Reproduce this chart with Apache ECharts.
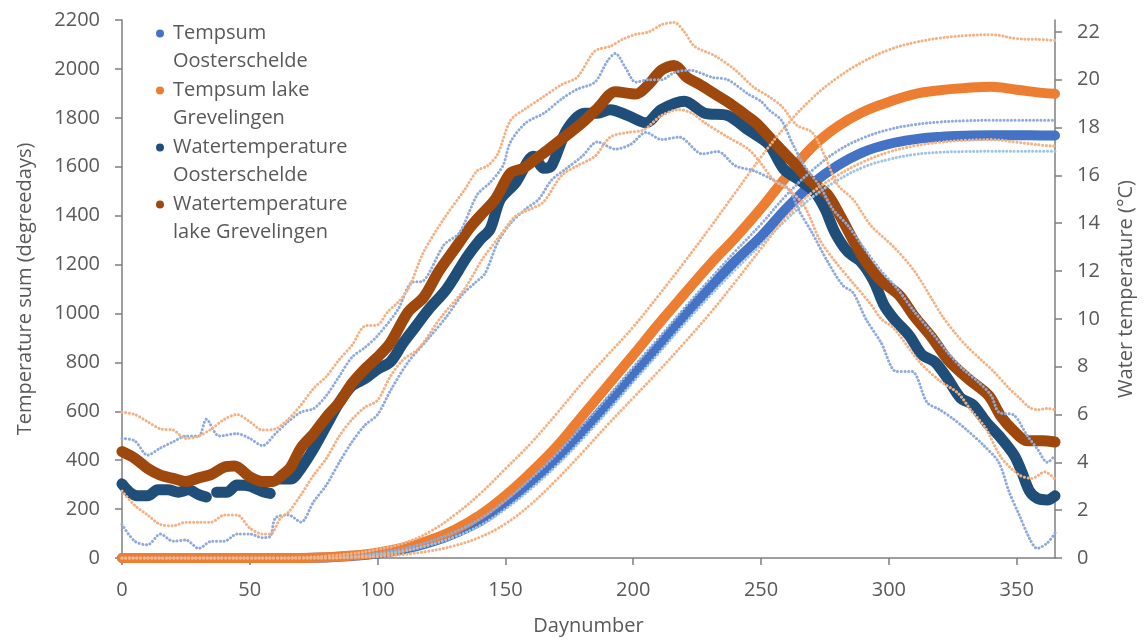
<!DOCTYPE html>
<html>
<head>
<meta charset="utf-8">
<title>Tempsum and water temperature</title>
<script src="https://cdn.jsdelivr.net/npm/echarts@6/dist/echarts.min.js"></script>
<style>
  html, body { margin: 0; padding: 0; background: #fff; }
  #chart { width: 1144px; height: 641px; }
</style>
</head>
<body>
<div id="chart"></div>
<script>
// day numbers for the temperature sums (degreedays, left axis)
const sumDays = [0, 10, 20, 30, 40, 50, 60, 70, 80, 90, 100, 110, 120, 130, 140, 150, 160, 170, 180, 190,
  200, 210, 220, 230, 240, 250, 260, 270, 280, 290, 300, 310, 320, 330, 340, 350, 360, 365];

const tempsumOS = [0, 0, 0, 0, 0, 0, 0, 0, 2, 8, 18, 35, 62, 100, 150, 225, 310, 405, 515, 630,
  750, 868, 990, 1105, 1215, 1315, 1430, 1530, 1605, 1660, 1693, 1712, 1722, 1727, 1729, 1729, 1728, 1728];
const tempsumOSHigh = [0, 0, 0, 0, 0, 0, 0, 0, 0, 8, 20, 38, 66, 106, 160, 235, 325, 425, 540, 658,
  780, 900, 1022, 1140, 1255, 1365, 1485, 1585, 1665, 1718, 1752, 1772, 1783, 1788, 1790, 1790, 1790, 1790];
const tempsumOSLow = [0, 0, 0, 0, 0, 0, 0, 0, 0, 5, 14, 28, 52, 86, 132, 200, 283, 378, 485, 600,
  720, 838, 958, 1072, 1180, 1282, 1385, 1475, 1545, 1598, 1630, 1650, 1659, 1662, 1663, 1663, 1663, 1663];

const tempsumGrev = [0, 0, 0, 0, 0, 0, 0, 0, 3, 10, 22, 42, 72, 115, 175, 255, 350, 455, 580, 705,
  830, 958, 1080, 1200, 1310, 1430, 1560, 1680, 1765, 1825, 1865, 1897, 1913, 1922, 1927, 1915, 1902, 1898];
const tempsumGrevHigh = [0, 0, 0, 0, 0, 0, 0, 2, 8, 18, 35, 60, 105, 175, 262, 365, 470, 590, 715, 830,
  945, 1075, 1210, 1350, 1495, 1640, 1770, 1880, 1965, 2030, 2078, 2108, 2126, 2136, 2140, 2124, 2120, 2116];
const tempsumGrevLow = [0, 0, 0, 0, 0, 0, 0, 0, 0, 2, 6, 14, 28, 50, 85, 140, 220, 320, 430, 545,
  655, 765, 880, 1000, 1130, 1265, 1395, 1495, 1565, 1620, 1660, 1685, 1700, 1708, 1711, 1700, 1688, 1684];

// water temperature (°C, right axis) as [day, value]; '-' leaves a gap
const waterOS = [[0, 3.1], [3, 2.75], [6, 2.6], [10, 2.6], [14, 2.85], [18, 2.85], [22, 2.75], [26, 2.85],
  [30, 2.65], [33, 2.55], [35, '-'], [37, 2.75], [41, 2.75], [45, 3.05], [50, 3.0], [55, 2.78], [58, 2.7],
  [60, '-'], [62, 3.3], [66, 3.3], [70, 3.75], [75, 4.58], [80, 5.55], [85, 6.5], [90, 7.2], [95, 7.5],
  [100, 7.9], [105, 8.2], [110, 9.0], [115, 9.7], [120, 10.4], [127, 11.25], [135, 12.6], [140, 13.3],
  [144, 13.75], [148, 15.0], [154, 15.7], [161, 16.8], [165, 16.3], [168, 16.4], [174, 17.9], [181, 18.6],
  [186, 18.6], [191, 18.75], [198, 18.5], [205, 18.2], [211, 18.75], [220, 19.1], [228, 18.6], [237, 18.5],
  [245, 17.9], [253, 17.3], [259, 16.25], [265, 15.8], [271, 15.3], [275, 14.6], [279, 13.6], [284, 12.8],
  [289, 12.4], [294, 11.6], [298, 10.6], [302, 10.0], [308, 9.3], [313, 8.5], [318, 8.2], [323, 7.5],
  [328, 6.7], [333, 6.4], [338, 5.7], [344, 5.0], [349, 4.3], [352, 3.6], [355, 2.8], [358, 2.5],
  [362, 2.43], [365, 2.6]];
const waterOSMax = [[0, 5.0], [5, 4.9], [10, 4.3], [15, 4.6], [20, 4.86], [25, 5.1], [30, 5.1], [33, 5.8],
  [38, 5.1], [45, 5.2], [50, 5.0], [55, 4.7], [60, 5.2], [65, 5.7], [70, 6.1], [75, 6.25], [80, 6.8],
  [85, 7.6], [90, 8.4], [95, 8.8], [100, 9.3], [108, 10.4], [113, 11.5], [118, 11.6], [126, 13.1],
  [132, 13.6], [139, 15.2], [144, 15.7], [149, 16.4], [152, 17.4], [158, 18.2], [165, 18.6], [172, 19.2],
  [178, 19.6], [185, 19.9], [190, 20.8], [193, 21.1], [197, 20.5], [201, 19.9], [206, 20.0], [211, 20.0],
  [216, 20.3], [222, 20.4], [231, 20.1], [237, 20.0], [245, 19.4], [250, 19.1], [253, 18.75], [258, 18.3],
  [262, 17.4], [267, 16.4], [273, 15.55], [278, 14.6], [284, 13.9], [290, 13.0], [297, 12.0], [303, 11.3],
  [310, 10.3], [317, 9.4], [323, 8.6], [329, 7.9], [335, 7.36], [340, 6.8], [343, 6.1], [349, 5.97],
  [354, 5.14], [358, 4.58], [362, 4.0], [365, 4.3]];
const waterOSMin = [[0, 1.4], [5, 0.7], [10, 0.55], [15, 1.0], [20, 0.7], [25, 0.75], [30, 0.4], [35, 0.7],
  [40, 0.7], [45, 1.0], [50, 1.0], [55, 0.85], [58, 0.9], [60, 1.67], [65, 1.8], [70, 1.5], [75, 2.36],
  [80, 3.06], [85, 4.0], [90, 4.86], [95, 5.55], [100, 6.0], [105, 7.0], [112, 8.2], [120, 9.2], [127, 10.1],
  [133, 11.0], [138, 11.5], [142, 11.9], [147, 13.2], [152, 14.0], [158, 14.6], [163, 15.0], [168, 15.8],
  [174, 16.3], [180, 16.8], [186, 17.4], [193, 17.1], [199, 17.3], [205, 17.8], [211, 17.5], [218, 17.6],
  [227, 16.9], [233, 17.0], [240, 16.4], [247, 16.2], [255, 15.8], [261, 15.4], [265, 14.5], [270, 13.6],
  [276, 12.4], [282, 11.4], [286, 11.1], [291, 10.0], [297, 9.0], [303, 7.8], [309, 7.8], [315, 6.5],
  [320, 6.2], [325, 5.83], [330, 5.4], [337, 4.72], [343, 4.0], [347, 2.78], [351, 1.8], [355, 0.83],
  [358, 0.4], [362, 0.63], [365, 1.04]];

const waterGrev = [[0, 4.45], [5, 4.17], [10, 3.75], [15, 3.47], [20, 3.33], [25, 3.2], [30, 3.35], [35, 3.5],
  [40, 3.8], [44, 3.85], [50, 3.4], [55, 3.2], [59, 3.2], [63, 3.5], [66, 3.8], [70, 4.6], [75, 5.2],
  [80, 5.9], [85, 6.5], [90, 7.3], [95, 7.9], [100, 8.4], [105, 9.0], [112, 10.3], [118, 10.9], [124, 12.0],
  [130, 12.9], [136, 13.8], [140, 14.3], [146, 15.0], [152, 16.1], [157, 16.3], [162, 16.7], [167, 17.1],
  [173, 17.6], [180, 18.2], [186, 18.8], [193, 19.5], [201, 19.4], [206, 19.8], [211, 20.4], [216, 20.6],
  [221, 20.1], [226, 19.8], [232, 19.4], [238, 19.0], [243, 18.6], [248, 18.2], [255, 17.4], [263, 16.5],
  [270, 15.7], [276, 15.2], [281, 14.3], [286, 13.3], [291, 12.4], [297, 11.6], [304, 11.0], [310, 10.1],
  [317, 9.2], [323, 8.3], [331, 7.5], [339, 6.8], [344, 5.9], [349, 5.3], [354, 4.9], [360, 4.9], [365, 4.85]];
const waterGrevMax = [[0, 6.1], [5, 6.0], [10, 5.7], [15, 5.4], [20, 5.35], [25, 5.0], [30, 5.1], [35, 5.4],
  [40, 5.8], [45, 6.0], [50, 5.7], [55, 5.35], [60, 5.4], [65, 5.8], [70, 6.4], [75, 7.1], [80, 7.6],
  [85, 8.3], [90, 8.9], [95, 9.7], [100, 9.75], [104, 10.3], [108, 10.7], [112, 11.25], [118, 12.8],
  [126, 14.2], [134, 15.4], [139, 16.2], [143, 16.4], [147, 16.9], [152, 18.3], [158, 18.8], [165, 19.3],
  [172, 19.8], [178, 20.1], [185, 21.2], [191, 21.4], [196, 21.7], [201, 21.9], [206, 22.0], [211, 22.3],
  [216, 22.4], [220, 22.0], [224, 21.4], [232, 21.0], [240, 20.4], [247, 19.7], [253, 19.3], [258, 18.9],
  [264, 18.1], [270, 17.8], [275, 16.8], [280, 15.6], [286, 15.0], [293, 13.9], [302, 13.0], [310, 12.0],
  [317, 10.8], [321, 10.1], [326, 9.4], [331, 8.8], [336, 8.3], [341, 7.8], [347, 7.1], [351, 6.7],
  [355, 6.3], [358, 6.2], [362, 6.25], [365, 6.2]];
const waterGrevMin = [[0, 2.8], [5, 2.2], [10, 1.8], [15, 1.4], [20, 1.35], [25, 1.5], [30, 1.5], [35, 1.5],
  [40, 1.8], [45, 1.8], [50, 1.25], [55, 1.0], [58, 1.0], [62, 1.67], [65, 1.9], [70, 2.64], [75, 3.47],
  [80, 4.17], [85, 5.1], [90, 5.8], [95, 6.3], [100, 6.6], [105, 7.6], [110, 8.3], [116, 8.75], [125, 10.1],
  [134, 11.25], [141, 12.5], [148, 13.5], [154, 14.3], [160, 14.6], [165, 14.9], [172, 16.0], [178, 16.4],
  [185, 16.8], [191, 17.6], [198, 17.8], [204, 17.9], [211, 18.5], [218, 18.75], [223, 18.6], [228, 18.2],
  [237, 17.6], [245, 17.1], [250, 16.5], [255, 15.8], [261, 15.4], [267, 14.7], [273, 13.3], [279, 12.4],
  [286, 11.5], [293, 10.6], [297, 10.0], [302, 9.6], [312, 8.2], [320, 7.4], [327, 6.9], [332, 6.2],
  [338, 5.4], [344, 4.2], [351, 3.47], [356, 3.33], [361, 3.6], [365, 3.3]];

const dayTicks = [0, 50, 100, 150, 200, 250, 300, 350];
const tempTicks = [0, 2, 4, 6, 8, 10, 12, 14, 16, 18, 20, 22];

const legendLabels = {
  'Tempsum Oosterschelde': 'Tempsum\nOosterschelde',
  'Tempsum lake Grevelingen': 'Tempsum lake\nGrevelingen',
  'Watertemperature Oosterschelde': 'Watertemperature\nOosterschelde',
  'Watertemperature lake Grevelingen': 'Watertemperature\nlake Grevelingen'
};

const FONT = '"Open Sans"';
const GREY = '#595959';
const AXIS = '#7f7f7f';
// round marker in the top-left corner of a 12x36 box, so it lines up with the first text line
const LEGEND_DOT = 'path://M0,4A4,4 0 1,0 8,4A4,4 0 1,0 0,4ZM0,36L12,36L0,36Z';

function pairs(days, vals) {
  return days.map((d, i) => [d, vals[i]]);
}

// the dense daily dots of the main series look like one thick band
function thick(name, data, axis, color, width, smooth) {
  return {
    name: name, type: 'line', yAxisIndex: axis, data: data,
    showSymbol: false, smooth: smooth, clip: false, connectNulls: false,
    lineStyle: { color: color, width: width, cap: 'round', join: 'round' },
    itemStyle: { color: color },
    emphasis: { disabled: true }, z: 2
  };
}
// the min / max series are small separate dots
function dots(name, data, axis, color, smooth) {
  return {
    name: name, type: 'line', yAxisIndex: axis, data: data,
    showSymbol: false, smooth: smooth, clip: false,
    lineStyle: { color: color, width: 3, type: [0.1, 3.6], cap: 'round', join: 'round' },
    itemStyle: { color: color },
    emphasis: { disabled: true }, z: 3
  };
}

const chart = echarts.init(document.getElementById('chart'));
chart.setOption({
  animation: false,
  textStyle: { fontFamily: FONT },
  grid: { left: 122, right: 81, top: 20, bottom: 81 },
  legend: {
    orient: 'vertical', left: 156, top: 19, padding: 0,
    itemWidth: 12, itemHeight: 36, itemGap: 0, icon: LEGEND_DOT,
    selectedMode: false,
    data: Object.keys(legendLabels),
    formatter: function (n) { return legendLabels[n]; },
    textStyle: { fontFamily: FONT, fontSize: 20, color: GREY, lineHeight: 28.5 }
  },
  xAxis: {
    type: 'value', min: 0, max: 365,
    name: 'Daynumber', nameLocation: 'middle', nameGap: 58,
    nameTextStyle: { fontFamily: FONT, fontSize: 20, color: GREY },
    axisLine: { show: true, lineStyle: { color: AXIS, width: 1.5 } },
    axisTick: { show: true, length: 7, customValues: dayTicks, lineStyle: { color: AXIS, width: 1.5 } },
    axisLabel: { customValues: dayTicks, margin: 22, fontFamily: FONT, fontSize: 20, color: GREY },
    splitLine: { show: false }
  },
  yAxis: [{
    type: 'value', min: 0, max: 2200, interval: 200, position: 'left',
    name: 'Temperature sum (degreedays)', nameLocation: 'middle', nameGap: 87, nameRotate: 90,
    nameTextStyle: { fontFamily: FONT, fontSize: 20, color: GREY },
    axisLine: { show: true, lineStyle: { color: AXIS, width: 1.5 } },
    axisTick: { show: true, length: 7, lineStyle: { color: AXIS, width: 1.5 } },
    axisLabel: { margin: 22, fontFamily: FONT, fontSize: 20, color: GREY, formatter: function (v) { return String(v); } },
    splitLine: { show: false }
  }, {
    type: 'value', min: 0, max: 22.5, position: 'right',
    name: 'Water temperature (°C)', nameLocation: 'middle', nameGap: 61, nameRotate: 90,
    nameTextStyle: { fontFamily: FONT, fontSize: 20, color: GREY },
    axisLine: { show: true, lineStyle: { color: AXIS, width: 1.5 } },
    axisTick: { show: true, length: 7, customValues: tempTicks, lineStyle: { color: AXIS, width: 1.5 } },
    axisLabel: { customValues: tempTicks, margin: 22, fontFamily: FONT, fontSize: 20, color: GREY },
    splitLine: { show: false }
  }],
  series: [
    thick('Tempsum Oosterschelde', pairs(sumDays, tempsumOS), 0, '#4472C4', 10, 0.4),
    thick('Tempsum lake Grevelingen', pairs(sumDays, tempsumGrev), 0, '#ED7D31', 10, 0.4),
    thick('Watertemperature Oosterschelde', waterOS, 1, '#1F4E79', 11, 0.3),
    thick('Watertemperature lake Grevelingen', waterGrev, 1, '#9E480E', 11, 0.3),
    dots('Tempsum Oosterschelde max', pairs(sumDays, tempsumOSHigh), 0, '#8FAADC', 0.4),
    dots('Tempsum Oosterschelde min', pairs(sumDays, tempsumOSLow), 0, '#9DC3E6', 0.4),
    dots('Tempsum lake Grevelingen max', pairs(sumDays, tempsumGrevHigh), 0, '#F4B183', 0.4),
    dots('Tempsum lake Grevelingen min', pairs(sumDays, tempsumGrevLow), 0, '#F4B183', 0.4),
    dots('Watertemperature Oosterschelde max', waterOSMax, 1, '#8FAADC', 0.3),
    dots('Watertemperature Oosterschelde min', waterOSMin, 1, '#8FAADC', 0.3),
    dots('Watertemperature lake Grevelingen max', waterGrevMax, 1, '#F4B183', 0.3),
    dots('Watertemperature lake Grevelingen min', waterGrevMin, 1, '#F4B183', 0.3)
  ]
});
</script>
</body>
</html>
